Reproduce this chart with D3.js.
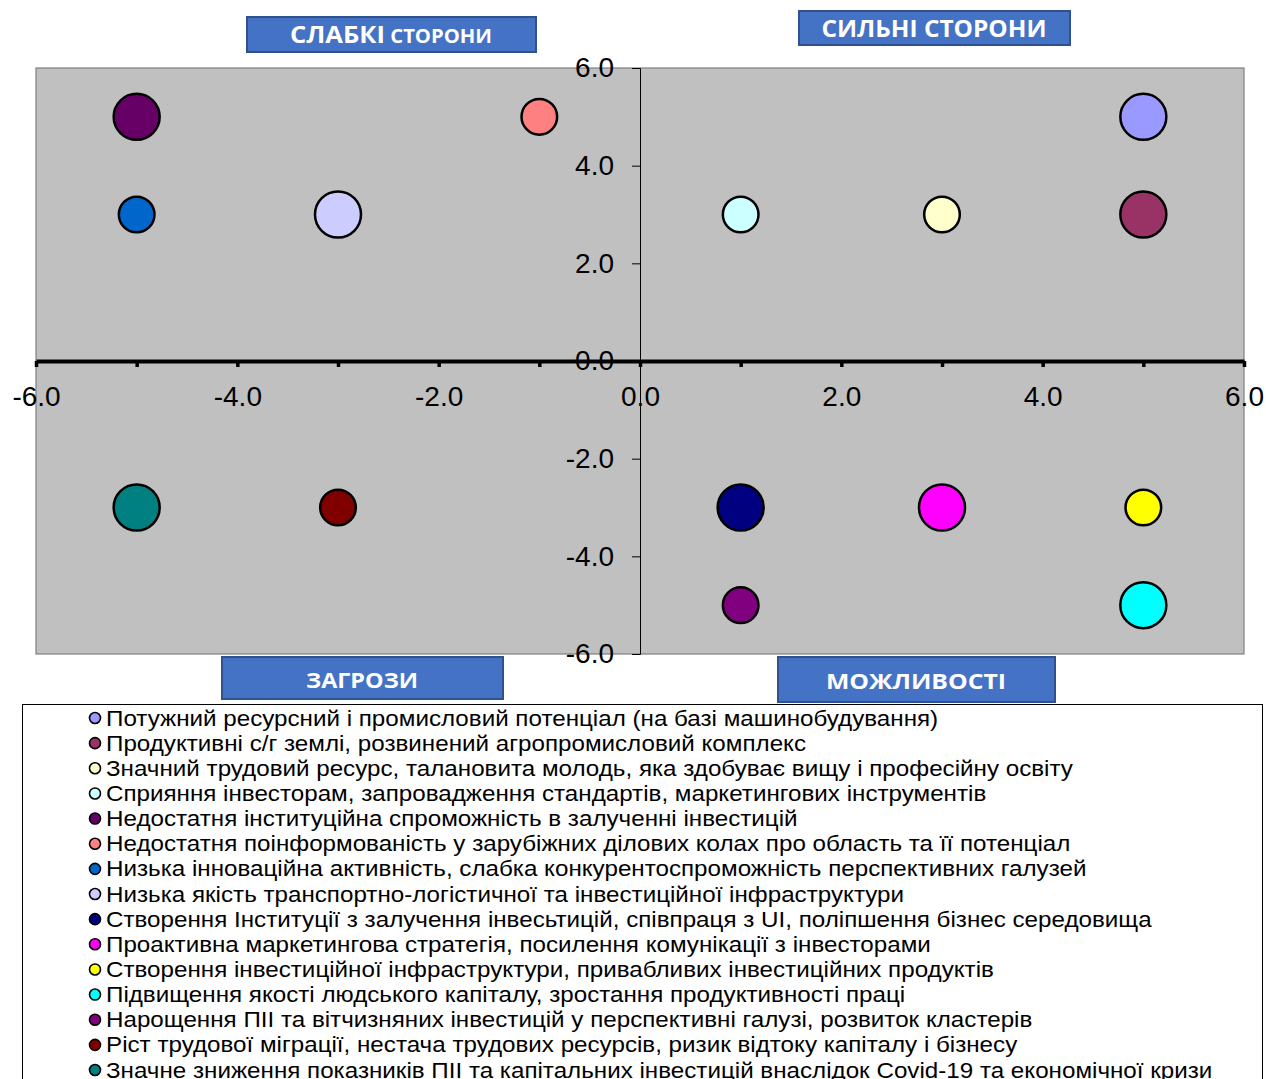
<!DOCTYPE html>
<html>
<head>
<meta charset="utf-8">
<script src="https://cdn.jsdelivr.net/npm/d3@7"></script>
<style>
  body { margin: 0; background: #fff; }
  svg { display: block; }
  .tick text { font-family: "Liberation Sans", Arial, sans-serif; font-size: 28px; fill: #000; }
  .legend text { font-family: "Liberation Sans", Arial, sans-serif; font-size: 21.5px; fill: #000; }
  .box text { font-family: "Open Sans", sans-serif; font-weight: bold; fill: #fff; }
</style>
</head>
<body>
<div id="chart"></div>
<script>
// SWOT bubble chart data
const labels = [
  'Потужний ресурсний і промисловий потенціал (на базі машинобудування)',
  'Продуктивні с/г землі, розвинений агропромисловий комплекс',
  'Значний трудовий ресурс, талановита молодь, яка здобуває вищу і професійну освіту',
  'Сприяння інвесторам, запровадження стандартів, маркетингових інструментів',
  'Недостатня інституційна спроможність в залученні інвестицій',
  'Недостатня поінформованість у зарубіжних ділових колах про область та її потенціал',
  'Низька інноваційна активність, слабка конкурентоспроможність перспективних галузей',
  'Низька якість транспортно-логістичної та інвестиційної інфраструктури',
  'Створення Інституції з залучення інвесьтицій, співпраця з UI, поліпшення бізнес середовища',
  'Проактивна маркетингова стратегія, посилення комунікації з інвесторами',
  'Створення інвестиційної інфраструктури, привабливих інвестиційних продуктів',
  'Підвищення якості людського капіталу, зростання продуктивності праці',
  'Нарощення ПІІ та вітчизняних інвестицій у перспективні галузі, розвиток кластерів',
  'Ріст трудової міграції, нестача трудових ресурсів,  ризик відтоку капіталу і бізнесу',
  'Значне зниження показників ПІІ та капітальних інвестицій внаслідок Covid-19 та економічної кризи'
]
const xValues = [5, 5, 3, 1, -5, -1, -5, -3, 1, 3, 5, 5, 1, -3, -5]
const yValues = [5, 3, 3, 3, 5, 5, 3, 3, -3, -3, -3, -5, -5, -3, -3]
const sizes   = [5, 5, 3, 3, 5, 3, 3, 5, 5, 5, 3, 5, 3, 3, 5]
const colors  = ['#9999ff', '#993366', '#ffffcc', '#ccffff', '#660066', '#ff8080', '#0066cc', '#ccccff',
                 '#000080', '#ff00ff', '#ffff00', '#00ffff', '#800080', '#800000', '#008080']

const axisTicks = [-6, -4, -2, 0, 2, 4, 6]
const minorTicks = d3.range(-6, 7)

const quadrantTitles = [
  {parts: [['СЛАБКІ', 24], [' СТОРОНИ', 19]], box: [247, 17, 289, 35], tx: 391, ty: 43, tw: 202},
  {parts: [['СИЛЬНІ СТОРОНИ', 24]], box: [799, 11, 271, 34], tx: 934, ty: 37, tw: 225},
  {parts: [['ЗАГРОЗИ', 22]], box: [222, 657, 281, 42], tx: 362, ty: 688, tw: 112},
  {parts: [['МОЖЛИВОСТІ', 22]], box: [778, 657, 277, 45], tx: 916, ty: 689, tw: 180}
]

const W = 1266, H = 1079
const fmt = d => d.toFixed(1)

const svg = d3.select('#chart').append('svg')
  .attr('width', W)
  .attr('height', H)

const x = d3.scaleLinear().domain([-6, 6]).range([36, 1244])
const y = d3.scaleLinear().domain([-6, 6]).range([654, 68])
const r = d3.scaleSqrt().domain([0, 5]).range([0, 23])

// plot area
svg.append('rect')
  .attr('x', x(-6)).attr('y', y(6))
  .attr('width', x(6) - x(-6)).attr('height', y(-6) - y(6))
  .attr('fill', '#c0c0c0')
  .attr('stroke', '#7f7f7f')
  .attr('stroke-width', 1.2)

// y axis through x = 0
const yAxis = svg.append('g')
  .attr('transform', `translate(${x(0)},0)`)
  .call(d3.axisLeft(y).tickValues(axisTicks).tickSize(8).tickPadding(18).tickFormat(fmt))
yAxis.select('.domain').attr('stroke', '#000').attr('stroke-width', 1)
yAxis.selectAll('.tick line').attr('stroke', '#000')

// x axis through y = 0
const xAxis = svg.append('g')
  .attr('transform', `translate(0,${y(0)})`)
  .call(d3.axisBottom(x).tickValues(minorTicks).tickSizeInner(6).tickSizeOuter(0).tickPadding(19)
    .tickFormat(d => d % 2 === 0 ? fmt(d) : ''))
xAxis.select('.domain').attr('stroke', '#000').attr('stroke-width', 4)
xAxis.selectAll('.tick line').attr('stroke', '#000').attr('stroke-width', 3.5)

// bubbles
svg.append('g').selectAll('circle')
  .data(d3.range(labels.length).sort((a, b) => sizes[b] - sizes[a]))
  .enter().append('circle')
    .attr('cx', i => x(xValues[i]))
    .attr('cy', i => y(yValues[i]))
    .attr('r', i => r(sizes[i]))
    .attr('fill', i => colors[i])
    .attr('stroke', '#000')
    .attr('stroke-width', 2.5)

// quadrant titles
const boxes = svg.append('g').attr('class', 'box').selectAll('g')
  .data(quadrantTitles).enter().append('g')
boxes.append('rect')
  .attr('x', d => d.box[0]).attr('y', d => d.box[1])
  .attr('width', d => d.box[2]).attr('height', d => d.box[3])
  .attr('fill', '#4472c4')
  .attr('stroke', '#2f528f')
  .attr('stroke-width', 2)
boxes.append('text')
  .attr('x', d => d.tx).attr('y', d => d.ty)
  .attr('text-anchor', 'middle')
  .attr('textLength', d => d.tw)
  .attr('lengthAdjust', 'spacingAndGlyphs')
  .selectAll('tspan').data(d => d.parts).enter().append('tspan')
    .attr('font-size', p => p[1] + 'px')
    .text(p => p[0])

// legend
const legend = svg.append('g').attr('class', 'legend')
legend.append('rect')
  .attr('x', 22.5).attr('y', 704.5)
  .attr('width', 1240).attr('height', 420)
  .attr('fill', '#fff')
  .attr('stroke', '#000')
  .attr('stroke-width', 1)

const rowY = d3.scaleLinear().domain([0, 14]).range([718, 1070])
const rows = legend.selectAll('g.row')
  .data(labels).enter().append('g')
    .attr('class', 'row')
    .attr('transform', (d, i) => `translate(0,${rowY(i)})`)
rows.append('circle')
  .attr('cx', 95).attr('cy', 0).attr('r', 5.5)
  .attr('fill', (d, i) => colors[i])
  .attr('stroke', '#000')
  .attr('stroke-width', 1.6)
// the source legend font is set wider than Arial, so stretch it horizontally
rows.append('text')
  .attr('transform', 'translate(106,7.5) scale(1.125,1)')
  .text(d => d)
</script>
</body>
</html>
